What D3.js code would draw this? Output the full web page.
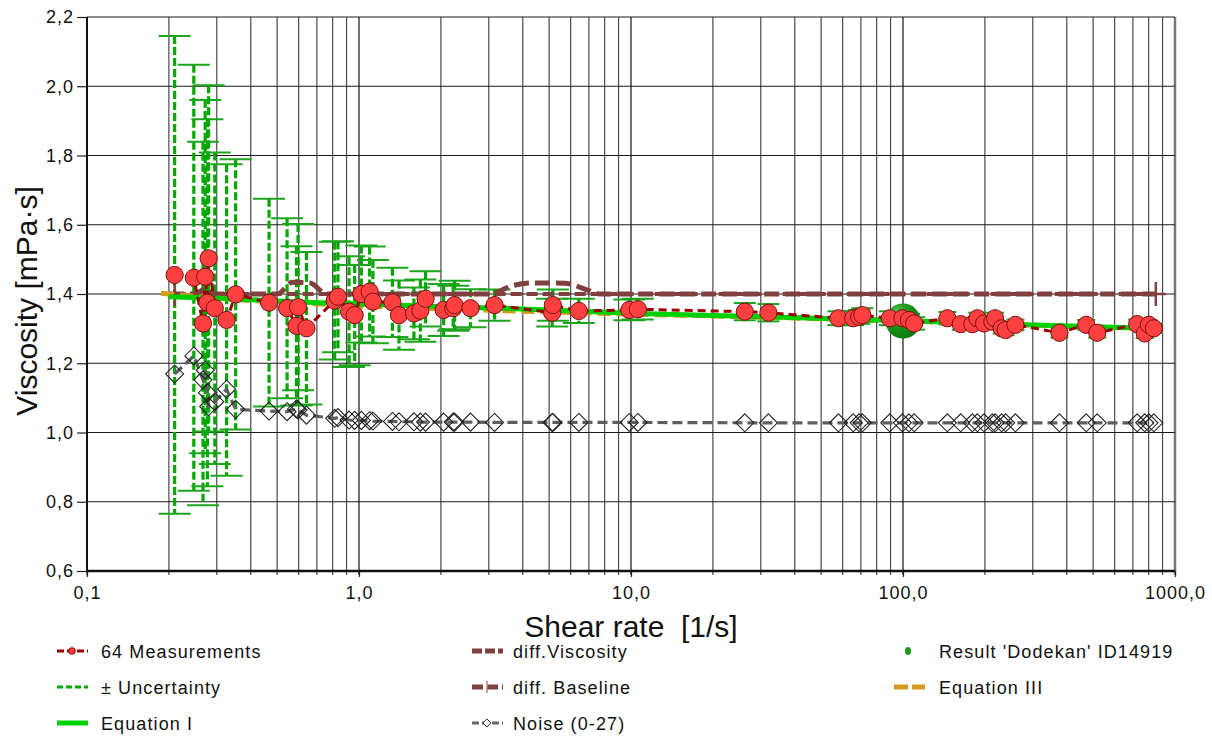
<!DOCTYPE html>
<html><head><meta charset="utf-8">
<script src="https://cdn.jsdelivr.net/npm/d3@7"></script>
<style>body{margin:0;background:#fff} svg{display:block;font-family:"Liberation Sans",Arial,sans-serif}</style>
</head><body><svg id="c" width="1212" height="740"></svg>
<script>
// ---- data ----
const shearRate = [0.210,0.247,0.267,0.272,0.277,0.280,0.295,0.326,0.352,0.467,0.544,0.589,0.597,0.641,0.814,0.837,0.919,0.964,1.020,1.094,1.125,1.327,1.403,1.592,1.681,1.757,2.047,2.220,2.246,2.570,3.150,5.130,5.160,6.430,9.860,10.60,26.2,32.0,57.9,65.6,69.0,70.9,89.4,99.5,105.2,109.9,145.6,163.0,179.9,187.6,198.6,213,218,230.5,238.5,259,376,471.6,517.6,726,774,802,836];
const viscosity = [1.455,1.447,1.315,1.450,1.375,1.503,1.359,1.325,1.399,1.375,1.359,1.308,1.362,1.301,1.381,1.392,1.349,1.339,1.400,1.407,1.378,1.376,1.339,1.344,1.352,1.386,1.354,1.359,1.368,1.359,1.368,1.346,1.368,1.351,1.354,1.356,1.349,1.346,1.330,1.330,1.334,1.339,1.330,1.330,1.325,1.315,1.330,1.313,1.313,1.330,1.315,1.320,1.330,1.301,1.296,1.311,1.288,1.311,1.288,1.313,1.286,1.311,1.301];
const uncertainty = [0.69,0.615,0.525,0.51,0.53,0.50,0.45,0.45,0.39,0.30,0.26,0.23,0.24,0.22,0.17,0.16,0.16,0.145,0.14,0.13,0.12,0.10,0.10,0.075,0.09,0.08,0.075,0.065,0.07,0.055,0.045,0.04,0.045,0.035,0.03,0.03,0.025,0.025,0.02,0.02,0.02,0.02,0.02,0.02,0.018,0.018,0.018,0.016,0.016,0.016,0.016,0.016,0.016,0.015,0.015,0.015,0.014,0.014,0.014,0.013,0.013,0.013,0.013];
const noise = [1.169,1.221,1.152,1.180,1.115,1.075,1.089,1.125,1.067,1.062,1.060,1.068,1.065,1.050,1.041,1.043,1.036,1.035,1.035,1.034,1.033,1.032,1.031,1.031,1.030,1.030,1.030,1.030,1.030,1.030,1.029,1.029,1.029,1.029,1.029,1.029,1.028,1.028,1.028,1.028,1.028,1.028,1.028,1.028,1.028,1.028,1.028,1.028,1.028,1.028,1.028,1.028,1.028,1.028,1.028,1.028,1.028,1.028,1.028,1.028,1.028,1.028,1.028];
const diffViscX = [0.2,0.25,0.27,0.3,0.5,0.57,0.66,0.76,3.0,3.7,4.4,5.7,7.0,7.7,850];
const diffViscY = [1.40,1.40,1.413,1.40,1.40,1.434,1.432,1.40,1.40,1.425,1.432,1.431,1.41,1.40,1.40];
const baselineX = [0.21,850];
const baselineY = [1.40,1.40];
const eq1X = [0.2,0.3,0.6,1,2.2,3.3,10.6,26,135,280,850];
const eq1Y = [1.392,1.388,1.377,1.371,1.363,1.359,1.344,1.336,1.320,1.311,1.300];
const eq3X = [0.187,0.3,1,3,10,30,100,300,850];
const eq3Y = [1.402,1.388,1.366,1.353,1.342,1.333,1.322,1.310,1.300];
const resultX = 100, resultY = 1.322;
const yTicks = [0.6,0.8,1.0,1.2,1.4,1.6,1.8,2.0,2.2];
const xTicks = [0.1,1,10,100,1000];
const legendLabels = [["64 Measurements","± Uncertainty","Equation I"],["diff.Viscosity","diff. Baseline","Noise (0-27)"],["Result 'Dodekan' ID14919","Equation III"]];

// ---- drawing ----
const svg = d3.select("#c");
const L=87,R=1175,T=17,B=571;
const x = d3.scaleLog().domain([0.1,1000]).range([L,R]);
const y = d3.scaleLinear().domain([0.6,2.2]).range([B,T]);
const zip = (a,b)=>a.map((v,i)=>[v,b[i]]);
const line = d3.line().x(d=>x(d[0])).y(d=>y(d[1]));

// grid
const g = svg.append("g");
[0.1,1,10,100].forEach(dec=>{
  for(let k=1;k<=9;k++){
    const v=dec*k;
    g.append("line").attr("x1",x(v)).attr("x2",x(v)).attr("y1",T).attr("y2",B+4)
      .attr("stroke",k===1?"#111":"#4a4a4a").attr("stroke-width",1.2);
  }
});
g.append("line").attr("x1",R).attr("x2",R).attr("y1",T).attr("y2",B+4).attr("stroke","#777").attr("stroke-width",2.5);
yTicks.forEach(v=>{
  g.append("line").attr("x1",L).attr("x2",R).attr("y1",y(v)).attr("y2",y(v)).attr("stroke","#1a1a1a").attr("stroke-width",1.2);
});

// axes
const yAxis = svg.append("g").attr("transform",`translate(${L},0)`)
  .call(d3.axisLeft(y).tickValues(yTicks).tickFormat(d=>d.toFixed(1).replace(".",",")).tickSize(10).tickPadding(3));
yAxis.select(".domain").remove();
yAxis.selectAll("line").attr("stroke","#222").attr("stroke-width",1.2);
yAxis.selectAll("text").attr("font-size",18).attr("fill","#111").attr("font-family","Liberation Sans, Arial, sans-serif").style("letter-spacing","1px");
const xAxis = svg.append("g").attr("transform",`translate(0,${B})`)
  .call(d3.axisBottom(x).tickValues(xTicks).tickFormat(d=>d.toFixed(1).replace(".",",")).tickSize(6).tickPadding(9));
xAxis.select(".domain").remove();
xAxis.selectAll("line").attr("stroke","#222").attr("stroke-width",1.2);
xAxis.selectAll("text").attr("font-size",18).attr("fill","#111").attr("font-family","Liberation Sans, Arial, sans-serif").style("letter-spacing","1px");
svg.append("line").attr("x1",L).attr("x2",L).attr("y1",T).attr("y2",B).attr("stroke","#111").attr("stroke-width",2);
svg.append("line").attr("x1",L).attr("x2",R).attr("y1",B).attr("y2",B).attr("stroke","#111").attr("stroke-width",2.5);

// titles
svg.append("text").attr("transform","translate(37,301) rotate(-90)").attr("text-anchor","middle")
  .attr("font-size",30).attr("fill","#111").text("Viscosity [mPa·s]");
svg.append("text").attr("x",631).attr("y",637).attr("text-anchor","middle").attr("font-size",30)
  .attr("fill","#111").style("white-space","pre").text("Shear rate  [1/s]");

// data layers
const meas = shearRate.map((s,i)=>({s, v:viscosity[i], u:uncertainty[i], n:noise[i]}));
const eb = svg.append("g");
meas.forEach(d=>{
  const cx=x(d.s), hw = d.s<15?16:(d.s<120?11:9);
  eb.append("line").attr("x1",cx).attr("x2",cx).attr("y1",y(d.v+d.u)).attr("y2",y(d.v-d.u))
    .attr("stroke","#00a800").attr("stroke-width",3.2).attr("stroke-dasharray","8,3");
  [d.v+d.u,d.v-d.u].forEach(yy=>{
    eb.append("line").attr("x1",cx-hw).attr("x2",cx+hw).attr("y1",y(yy)).attr("y2",y(yy))
      .attr("stroke","#1ea51e").attr("stroke-width",2);
  });
});

// noise
svg.append("path").datum(meas.map(d=>[d.s,d.n])).attr("d",line).attr("fill","none")
  .attr("stroke","#5e5e5e").attr("stroke-width",3.2).attr("stroke-dasharray","10,5");
svg.append("g").selectAll("path").data(meas).join("path")
  .attr("d",d=>{const cx=x(d.s),cy=y(d.n),r=9;return `M${cx},${cy-r}L${cx+r},${cy}L${cx},${cy+r}L${cx-r},${cy}Z`;})
  .attr("fill","none").attr("stroke","#222").attr("stroke-width",1.1);

// diff viscosity
svg.append("path").datum(zip(diffViscX,diffViscY)).attr("d",line.curve(d3.curveMonotoneX)).attr("fill","none")
  .attr("stroke","#804040").attr("stroke-width",5).attr("stroke-dasharray","15,6");
line.curve(d3.curveLinear);
// baseline
svg.append("path").datum(zip(baselineX,baselineY)).attr("d",line).attr("fill","none")
  .attr("stroke","#804040").attr("stroke-width",4).attr("stroke-dasharray","11,5");
baselineX.forEach((bx,i)=>{
  const cx=x(bx), cy=y(baselineY[i]);
  svg.append("path").attr("d",`M${cx},${cy-12}V${cy+12}M${cx-10},${cy}H${cx+10}`).attr("stroke","#804040").attr("stroke-width",2.5);
});
// equations
svg.append("path").datum(zip(eq3X,eq3Y)).attr("d",line.curve(d3.curveMonotoneX)).attr("fill","none")
  .attr("stroke","#d49a1e").attr("stroke-width",5).attr("stroke-dasharray","13,6");
svg.append("path").datum(zip(eq1X,eq1Y)).attr("d",line.curve(d3.curveMonotoneX)).attr("fill","none")
  .attr("stroke","#00d000").attr("stroke-width",5);
line.curve(d3.curveLinear);

// result
const defs = svg.append("defs");
const rg = defs.append("radialGradient").attr("id","rg").attr("cx","35%").attr("cy","30%").attr("r","70%");
rg.append("stop").attr("offset","0%").attr("stop-color","#6ccf6c");
rg.append("stop").attr("offset","45%").attr("stop-color","#1c9a1c");
rg.append("stop").attr("offset","100%").attr("stop-color","#0b7a0b");
svg.append("circle").attr("cx",x(resultX)).attr("cy",y(resultY)).attr("r",17.5).attr("fill","url(#rg)");

// measurements
svg.append("path").datum(meas.map(d=>[d.s,d.v])).attr("d",line).attr("fill","none")
  .attr("stroke","#9b0000").attr("stroke-width",3).attr("stroke-dasharray","8,5");
svg.append("g").selectAll("circle").data(meas).join("circle")
  .attr("cx",d=>x(d.s)).attr("cy",d=>y(d.v)).attr("r",8.6)
  .attr("fill","#ff4040").attr("stroke","#7a1010").attr("stroke-width",1);

// legend
const colSym=[57,472,894], colText=[101,513,939], rowY=[651,687,723];
const lg = svg.append("g");
legendLabels.forEach((col,ci)=>col.forEach((lab,ri)=>{
  lg.append("text").attr("x",colText[ci]).attr("y",rowY[ri]+6.5).attr("font-size",18).attr("fill","#111")
    .style("letter-spacing","1.1px").text(lab);
}));
function segLine(x0,yy,color,w,dash){
  lg.append("line").attr("x1",x0).attr("x2",x0+31).attr("y1",yy).attr("y2",yy)
    .attr("stroke",color).attr("stroke-width",w).attr("stroke-dasharray",dash||null);
}
segLine(colSym[0],rowY[0],"#9b0000",3,"7,3");
lg.append("circle").attr("cx",colSym[0]+15).attr("cy",rowY[0]).attr("r",3.3).attr("fill","#ff4040").attr("stroke","#9b0000").attr("stroke-width",1);
segLine(colSym[0],rowY[1],"#00ac00",3,"6,3");
segLine(colSym[0],rowY[2],"#00d000",5);
segLine(colSym[1],rowY[0],"#804040",5,"10,3");
segLine(colSym[1],rowY[1],"#804040",5,"11,4");
lg.append("path").attr("d",`M${colSym[1]+15},${rowY[1]-6}V${rowY[1]+6}`).attr("stroke","#c08080").attr("stroke-width",1.5);
segLine(colSym[1],rowY[2],"#666",3,"7,3");
lg.append("path").attr("d",`M${colSym[1]+15},${rowY[2]-4}l4,4l-4,4l-4,-4z`).attr("fill","#fff").attr("stroke","#333").attr("stroke-width",1);
lg.append("ellipse").attr("cx",colSym[2]+14).attr("cy",rowY[0]).attr("rx",3).attr("ry",4).attr("fill","#1a9a1a");
segLine(colSym[2],rowY[1],"#d49a1e",5,"14,4");
</script></body></html>
